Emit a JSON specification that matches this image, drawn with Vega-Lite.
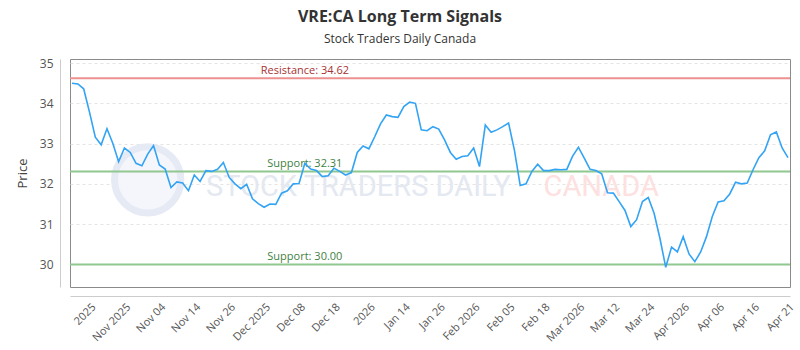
{
  "$schema": "https://vega.github.io/schema/vega-lite/v6.json",
  "width": 720,
  "height": 228,
  "autosize": {"type": "none"},
  "padding": {"left": 70, "top": 59, "right": 10, "bottom": 63},
  "background": "white",
  "title": {
    "text": "VRE:CA Long Term Signals",
    "subtitle": "Stock Traders Daily Canada",
    "anchor": "middle",
    "frame": "group",
    "dx": -30,
    "offset": 12,
    "font": "Open Sans",
    "fontSize": 16,
    "fontWeight": "bold",
    "color": "#333333",
    "subtitleFont": "Open Sans",
    "subtitleFontSize": 12,
    "subtitleColor": "#333333",
    "subtitlePadding": 9
  },
  "datasets": {
    "prices": [
      {"date": "2025-10-23", "price": 34.50}, {"date": "2025-10-24", "price": 34.48}, {"date": "2025-10-27", "price": 34.36},
      {"date": "2025-10-28", "price": 33.78}, {"date": "2025-10-29", "price": 33.16}, {"date": "2025-10-30", "price": 32.97},
      {"date": "2025-10-31", "price": 33.37}, {"date": "2025-11-03", "price": 33.01}, {"date": "2025-11-04", "price": 32.55},
      {"date": "2025-11-05", "price": 32.89}, {"date": "2025-11-06", "price": 32.78}, {"date": "2025-11-07", "price": 32.51},
      {"date": "2025-11-10", "price": 32.45}, {"date": "2025-11-11", "price": 32.74}, {"date": "2025-11-12", "price": 32.95},
      {"date": "2025-11-13", "price": 32.47}, {"date": "2025-11-14", "price": 32.37}, {"date": "2025-11-17", "price": 31.91},
      {"date": "2025-11-18", "price": 32.05}, {"date": "2025-11-19", "price": 32.02}, {"date": "2025-11-20", "price": 31.83},
      {"date": "2025-11-21", "price": 32.22}, {"date": "2025-11-24", "price": 32.06}, {"date": "2025-11-25", "price": 32.33},
      {"date": "2025-11-26", "price": 32.31}, {"date": "2025-11-27", "price": 32.36}, {"date": "2025-11-28", "price": 32.53},
      {"date": "2025-12-01", "price": 32.16}, {"date": "2025-12-02", "price": 32.00}, {"date": "2025-12-03", "price": 31.88},
      {"date": "2025-12-04", "price": 31.99}, {"date": "2025-12-05", "price": 31.63}, {"date": "2025-12-08", "price": 31.51},
      {"date": "2025-12-09", "price": 31.42}, {"date": "2025-12-10", "price": 31.50}, {"date": "2025-12-11", "price": 31.49},
      {"date": "2025-12-12", "price": 31.77}, {"date": "2025-12-15", "price": 31.83}, {"date": "2025-12-16", "price": 32.00},
      {"date": "2025-12-17", "price": 32.01}, {"date": "2025-12-18", "price": 32.51}, {"date": "2025-12-19", "price": 32.37},
      {"date": "2025-12-22", "price": 32.33}, {"date": "2025-12-23", "price": 32.18}, {"date": "2025-12-24", "price": 32.20},
      {"date": "2025-12-29", "price": 32.39}, {"date": "2025-12-30", "price": 32.31}, {"date": "2025-12-31", "price": 32.22},
      {"date": "2026-01-02", "price": 32.28}, {"date": "2026-01-05", "price": 32.78}, {"date": "2026-01-06", "price": 32.94},
      {"date": "2026-01-07", "price": 32.87}, {"date": "2026-01-08", "price": 33.17}, {"date": "2026-01-09", "price": 33.49},
      {"date": "2026-01-12", "price": 33.71}, {"date": "2026-01-13", "price": 33.67}, {"date": "2026-01-14", "price": 33.65},
      {"date": "2026-01-15", "price": 33.92}, {"date": "2026-01-16", "price": 34.03}, {"date": "2026-01-19", "price": 34.00},
      {"date": "2026-01-20", "price": 33.34}, {"date": "2026-01-21", "price": 33.32}, {"date": "2026-01-22", "price": 33.42},
      {"date": "2026-01-23", "price": 33.36}, {"date": "2026-01-26", "price": 33.09}, {"date": "2026-01-27", "price": 32.78},
      {"date": "2026-01-28", "price": 32.61}, {"date": "2026-01-29", "price": 32.68}, {"date": "2026-01-30", "price": 32.70},
      {"date": "2026-02-02", "price": 32.89}, {"date": "2026-02-03", "price": 32.43}, {"date": "2026-02-04", "price": 33.46},
      {"date": "2026-02-05", "price": 33.28}, {"date": "2026-02-06", "price": 33.34}, {"date": "2026-02-09", "price": 33.42},
      {"date": "2026-02-10", "price": 33.51}, {"date": "2026-02-11", "price": 32.84}, {"date": "2026-02-12", "price": 31.96},
      {"date": "2026-02-13", "price": 32.00}, {"date": "2026-02-17", "price": 32.31}, {"date": "2026-02-18", "price": 32.49},
      {"date": "2026-02-19", "price": 32.33}, {"date": "2026-02-20", "price": 32.33}, {"date": "2026-02-23", "price": 32.36},
      {"date": "2026-02-24", "price": 32.35}, {"date": "2026-02-25", "price": 32.36}, {"date": "2026-02-26", "price": 32.69},
      {"date": "2026-02-27", "price": 32.91}, {"date": "2026-03-02", "price": 32.64}, {"date": "2026-03-03", "price": 32.36},
      {"date": "2026-03-04", "price": 32.33}, {"date": "2026-03-05", "price": 32.25}, {"date": "2026-03-06", "price": 31.78},
      {"date": "2026-03-09", "price": 31.77}, {"date": "2026-03-10", "price": 31.56}, {"date": "2026-03-11", "price": 31.34},
      {"date": "2026-03-12", "price": 30.94}, {"date": "2026-03-13", "price": 31.11}, {"date": "2026-03-16", "price": 31.56},
      {"date": "2026-03-17", "price": 31.66}, {"date": "2026-03-18", "price": 31.27}, {"date": "2026-03-19", "price": 30.65},
      {"date": "2026-03-20", "price": 29.93}, {"date": "2026-03-23", "price": 30.43}, {"date": "2026-03-24", "price": 30.31},
      {"date": "2026-03-25", "price": 30.69}, {"date": "2026-03-26", "price": 30.26}, {"date": "2026-03-27", "price": 30.07},
      {"date": "2026-03-30", "price": 30.31}, {"date": "2026-03-31", "price": 30.69}, {"date": "2026-04-01", "price": 31.19},
      {"date": "2026-04-02", "price": 31.55}, {"date": "2026-04-06", "price": 31.58}, {"date": "2026-04-07", "price": 31.75},
      {"date": "2026-04-08", "price": 32.04}, {"date": "2026-04-09", "price": 32.00}, {"date": "2026-04-10", "price": 32.02},
      {"date": "2026-04-13", "price": 32.35}, {"date": "2026-04-14", "price": 32.65}, {"date": "2026-04-15", "price": 32.82},
      {"date": "2026-04-16", "price": 33.22}, {"date": "2026-04-17", "price": 33.29}, {"date": "2026-04-20", "price": 32.89},
      {"date": "2026-04-21", "price": 32.65}
    ],
    "levels": [
      {"kind": "Resistance", "value": 34.62, "label": "Resistance: 34.62"},
      {"kind": "Support", "value": 32.31, "label": "Support: 32.31"},
      {"kind": "Support", "value": 30.00, "label": "Support: 30.00"}
    ]
  },
  "config": {
    "font": "Open Sans",
    "view": {"stroke": "#8a8a8a", "strokeWidth": 1}
  },
  "layer": [
    {
      "data": {"values": [{"mark": "logo"}]},
      "mark": {"type": "point", "shape": "circle", "filled": false, "stroke": "#e6eaf4", "strokeWidth": 7, "size": 4400, "fill": "#f4f6fb", "fillOpacity": 1},
      "encoding": {
        "x": {"datum": "2025-11-11", "type": "ordinal"},
        "y": {"datum": 32.1, "type": "quantitative"}
      }
    },
    {
      "data": {"values": [{"text": "STOCK TRADERS DAILY"}]},
      "mark": {"type": "text", "align": "left", "baseline": "alphabetic", "font": "Roboto", "fontSize": 29, "color": "#e3e8f1"},
      "encoding": {
        "x": {"datum": "2025-11-25", "type": "ordinal"},
        "y": {"datum": 31.7, "type": "quantitative"},
        "text": {"field": "text"}
      }
    },
    {
      "data": {"values": [{"text": "CANADA"}]},
      "mark": {"type": "text", "align": "left", "baseline": "alphabetic", "font": "Roboto", "fontSize": 29, "color": "#fde0e0"},
      "encoding": {
        "x": {"datum": "2026-02-19", "type": "ordinal"},
        "y": {"datum": 31.7, "type": "quantitative"},
        "text": {"field": "text"}
      }
    },
    {
      "data": {"name": "levels"},
      "mark": {"type": "rule", "strokeWidth": 2},
      "encoding": {
        "y": {"field": "value", "type": "quantitative"},
        "color": {"condition": {"test": "datum.kind == 'Resistance'", "value": "#ec9090"}, "value": "#90c890"}
      }
    },
    {
      "data": {"name": "levels"},
      "mark": {"type": "text", "align": "center", "baseline": "bottom", "dy": -2, "fontSize": 11},
      "encoding": {
        "x": {"datum": "2025-12-18", "type": "ordinal"},
        "y": {"field": "value", "type": "quantitative"},
        "text": {"field": "label"},
        "color": {"condition": {"test": "datum.kind == 'Resistance'", "value": "#a83232"}, "value": "#3f7f3f"}
      }
    },
    {
      "data": {"name": "prices"},
      "mark": {"type": "line", "color": "#33a3f4", "strokeWidth": 1.6, "interpolate": "linear"},
      "encoding": {
        "x": {
          "field": "date",
          "type": "ordinal",
          "sort": "ascending",
          "scale": {"type": "point", "padding": 0.35},
          "axis": {
            "title": null,
            "offset": 9,
            "domainColor": "#cccccc",
            "ticks": false,
            "grid": false,
            "labelAngle": -45,
            "labelAlign": "right",
            "labelBaseline": "top",
            "labelPadding": 5,
            "labelFontSize": 11,
            "labelColor": "#555555",
            "labelOverlap": false,
            "values": ["2025-10-28", "2025-11-05", "2025-11-13", "2025-11-21", "2025-12-01", "2025-12-09", "2025-12-17", "2025-12-29", "2026-01-07", "2026-01-15", "2026-01-23", "2026-02-02", "2026-02-10", "2026-02-19", "2026-02-27", "2026-03-09", "2026-03-17", "2026-03-25", "2026-04-02", "2026-04-13", "2026-04-21"],
            "labelExpr": "['2025','Nov 2025','Nov 04','Nov 14','Nov 26','Dec 2025','Dec 08','Dec 18','2026','Jan 14','Jan 26','Feb 2026','Feb 05','Feb 18','Mar 2026','Mar 12','Mar 24','Apr 2026','Apr 06','Apr 16','Apr 21'][indexof(['2025-10-28','2025-11-05','2025-11-13','2025-11-21','2025-12-01','2025-12-09','2025-12-17','2025-12-29','2026-01-07','2026-01-15','2026-01-23','2026-02-02','2026-02-10','2026-02-19','2026-02-27','2026-03-09','2026-03-17','2026-03-25','2026-04-02','2026-04-13','2026-04-21'], datum.value)]"
          }
        },
        "y": {
          "field": "price",
          "type": "quantitative",
          "scale": {"domain": [29.44, 35.1], "nice": false, "zero": false},
          "axis": {
            "title": "Price",
            "titleFontSize": 13,
            "titleFontWeight": "normal",
            "titleColor": "#444444",
            "titlePadding": 10,
            "offset": 10,
            "values": [30, 31, 32, 33, 34, 35],
            "format": "d",
            "domainColor": "#cccccc",
            "ticks": false,
            "labelPadding": 7,
            "labelFontSize": 12,
            "labelColor": "#555555",
            "grid": true,
            "gridColor": "#e4e4e4",
            "gridDash": [3, 3]
          }
        }
      }
    }
  ]
}
